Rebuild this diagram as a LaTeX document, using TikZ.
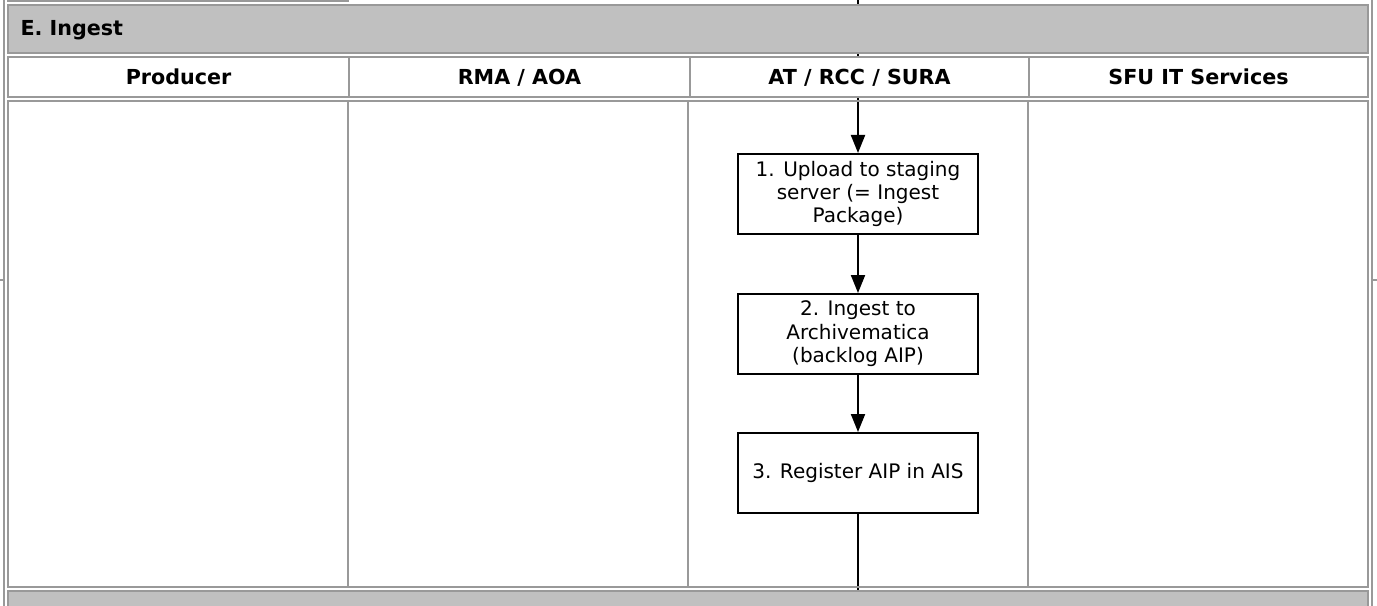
\documentclass[tikz,border=0pt]{standalone}
\usepackage{fontspec}
\setmainfont{DejaVu Sans}
\usepackage{tikz}
\usetikzlibrary{arrows.meta}
\definecolor{gridgray}{RGB}{153,153,153}
\definecolor{bandgray}{RGB}{192,192,192}
\tikzset{every picture/.style={line width=0.75pt}}
\tikzset{
  cellline/.style={draw=gridgray, line width=1.5},
  band/.style={cellline, fill=bandgray},
  headcell/.style={cellline, fill=white},
  headtext/.style={inner sep=0pt, font=\fontsize{15.5}{18}\selectfont\bfseries},
  stepbox/.style={draw, fill=white, line width=1.5, minimum width=180pt, minimum height=60pt, align=center, inner sep=2pt, font=\fontsize{15}{17.6}\selectfont},
  flow/.style={line width=1.5, -{Triangle[length=13.5pt,width=10.5pt]}},
}
\begin{document}
\begin{tikzpicture}[x=0.75pt,y=0.75pt,yscale=-1,xscale=1]
%set diagram left start at 0, and has height of 606
\useasboundingbox (0,0) rectangle (1377,606);

%Straight Lines: page frame
\draw [cellline]  (3.8,0) -- (3.8,606) ;
\draw [cellline]  (1372,0) -- (1372,606) ;
\draw [cellline]  (0,280) -- (3.8,280) ;
\draw [cellline]  (1372,280) -- (1377,280) ;

%Flowchart: Process
\node [stepbox] (upload) at (858,194) {1. Upload to staging\\server (= Ingest\\Package)};
%Flowchart: Process
\node [stepbox] (ingest) at (858,334) {2. Ingest to\\Archivematica\\(backlog AIP)};
%Flowchart: Process
\node [stepbox] (register) at (858,473) {3. Register AIP in AIS};

\coordinate (intop) at (858,0);
\coordinate (outbot) at (858,606);

%Straight Lines
\draw [flow]    (intop) -- (upload) ;
%Straight Lines
\draw [flow]    (upload) -- (ingest) ;
%Straight Lines
\draw [flow]    (ingest) -- (register) ;
%Straight Lines
\draw [line width=1.5]    (register) -- (outbot) ;

%Shape: Rectangle, cell of the row above
\draw [cellline]  (8,-20) rectangle (348,1.5) ;

%Shape: Rectangle, section band
\draw [band]  (8,5) rectangle (1368,53) ;
% Text Node
\node [headtext, anchor=base west] (title) at (20,36) {E. Ingest};

%Shape: Rectangle, lane headers
\draw [headcell]  (8,57) rectangle (349,97) ;
\draw [headcell]  (349,57) rectangle (690,97) ;
\draw [headcell]  (690,57) rectangle (1029,97) ;
\draw [headcell]  (1029,57) rectangle (1368,97) ;
% Text Node
\node [headtext, anchor=base] (producer) at (178.5,85) {Producer};
% Text Node
\node [headtext, anchor=base] (rma) at (519.5,85) {RMA / AOA};
% Text Node
\node [headtext, anchor=base] (atrcc) at (859.5,85) {AT / RCC / SURA};
% Text Node
\node [headtext, anchor=base] (sfuit) at (1198.5,85) {SFU IT Services};

%Shape: Rectangle, lanes
\draw [cellline]  (8,101) rectangle (348,587) ;
\draw [cellline]  (348,101) rectangle (688,587) ;
\draw [cellline]  (688,101) rectangle (1028,587) ;
\draw [cellline]  (1028,101) rectangle (1368,587) ;

%Shape: Rectangle, next section band
\draw [band]  (8,591) rectangle (1368,630) ;
\end{tikzpicture}
\end{document}
